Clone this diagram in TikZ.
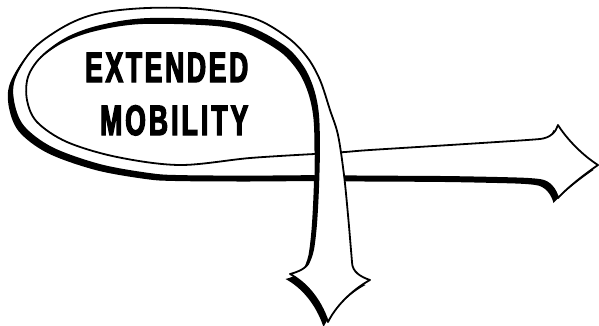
\documentclass[tikz,border=0pt]{standalone}
\usepackage{fontspec}
\newfontfamily\labelfont[FakeStretch=0.62,FakeBold=3]{Liberation Sans}

% Ribbon that loops round the lettering and ends in the downward arrow
\newcommand\loopband{%
  plot[smooth,tension=0.55] coordinates {(314.5,176) (250,176.5) (180,176) (150,174) (100,165)
    (52,148) (23,126) (13,100) (15,77) (34,48) (67,25) (100,13) (147,8) (200,9) (253,18)
    (287,37) (307,57) (320,80) (330,110) (338,135) (344,175) (348,215) (351,250) (352,262)}
  .. controls (352,272) and (361,277) .. (370,280)
  .. controls (357,287) and (338,302) .. (328,322)
  .. controls (320,298) and (305,282) .. (290,274)
  .. controls (298,272) and (307,268) .. (309,262)
  -- plot[smooth,tension=0.55] coordinates {(309,262) (313,250) (316,225) (318,190) (319,150)
    (318,114) (313,89) (303,67) (285,47) (253,29) (220,21) (147,19) (100,26) (67,38) (41,57)
    (28,77) (27,100) (37,122) (67,142) (117,157) (180,165) (250,158) (314.5,154)}}

% Straight ribbon ending in the arrow pointing right
\newcommand\arrowband{%
  plot[smooth,tension=0.55] coordinates {(314.5,154) (345,152) (370,150) (450,145) (520,140.5) (540,139)}
  .. controls (550,138) and (556,132) .. (558,125)
  .. controls (566,138) and (582,155) .. (598,165)
  .. controls (582,176) and (566,189) .. (558,198)
  .. controls (556,190) and (550,181) .. (540,180)
  -- plot[smooth,tension=0.55] coordinates {(540,180) (520,178.5) (450,177) (370,176.5) (314.5,176)}}

\begin{document}
\begin{tikzpicture}[x=1pt,y=-1pt,
  bandshadow/.style={fill=black,shift={(-4.5,5)}},
  bandface/.style={fill=white},
  bandedge/.style={draw=black,line width=1.8pt,line join=round,line cap=round},
  lettering/.style={inner sep=0pt,anchor=base west,font=\labelfont\bfseries\fontsize{42.5}{42.5}\selectfont}]
  \useasboundingbox[fill=white] (0,0) rectangle (599,325);

  % right-pointing arrow, passing under the loop
  \fill[bandshadow] \arrowband -- cycle;
  \fill[bandface] \arrowband -- cycle;
  \draw[bandedge] \arrowband;

  % loop and downward arrow, crossing over
  \fill[bandshadow] \loopband -- cycle;
  \fill[bandface] \loopband -- cycle;
  \draw[bandedge] \loopband;

  \node[lettering] (ext) at (85,82) {\hbox to 163pt{E\hfil X\hfil T\hfil E\hfil N\hfil D\hfil E\hfil D}};
  \node[lettering] (mob) at (100,135) {\hbox to 148pt{M\hfil O\hfil B\hfil I\hfil L\hfil I\hfil T\hfil Y}};
\end{tikzpicture}
\end{document}
